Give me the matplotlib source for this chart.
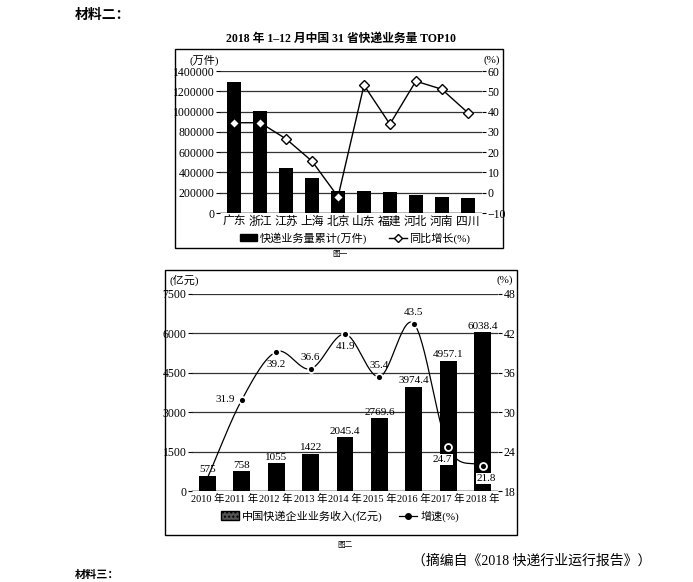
import numpy as np
import matplotlib
matplotlib.use('Agg')
import matplotlib.pyplot as plt
from matplotlib.patches import Rectangle
from matplotlib.lines import Line2D
from matplotlib.ticker import FuncFormatter

plt.rcParams['font.family'] = ['Liberation Serif', 'Noto Sans CJK SC']
plt.rcParams['axes.unicode_minus'] = True

# chart 1 data: 2018 top 10 provinces
provinces = ['广东', '浙江', '江苏', '上海', '北京', '山东', '福建', '河北', '河南', '四川']
volume = [1290000, 1005000, 440000, 345000, 215000, 215000, 205000, 175000, 160000, 145000]
volume_growth = [34.5, 34.5, 26.5, 15.5, -2.0, 53.0, 33.8, 55.0, 51.0, 39.5]

# chart 2 data: revenue by year
years = ['2010 年', '2011 年', '2012 年', '2013 年', '2014 年', '2015 年', '2016 年', '2017 年', '2018 年']
revenue = [575, 758, 1055, 1422, 2045.4, 2769.6, 3974.4, 4957.1, 6038.4]
revenue_labels = ['575', '758', '1055', '1422', '2045.4', '2769.6', '3974.4', '4957.1', '6038.4']
rev_growth = [20.0, 31.9, 39.2, 36.6, 41.9, 35.4, 43.5, 24.7, 21.8]
rev_growth_labels = ['', '31.9', '39.2', '36.6', '41.9', '35.4', '43.5', '24.7', '21.8']


def smooth(xs, ys, n=30):
    """Catmull-Rom style smoothing through the given points"""
    xs = np.asarray(xs, float)
    ys = np.asarray(ys, float)
    m = np.gradient(ys, xs)
    out_x, out_y = [], []
    for i in range(len(xs) - 1):
        t = np.linspace(0, 1, n)
        h = xs[i + 1] - xs[i]
        h00 = 2 * t**3 - 3 * t**2 + 1
        h10 = t**3 - 2 * t**2 + t
        h01 = -2 * t**3 + 3 * t**2
        h11 = t**3 - t**2
        out_x.extend(xs[i] + t * h)
        out_y.extend(h00 * ys[i] + h10 * h * m[i] + h01 * ys[i + 1] + h11 * h * m[i + 1])
    return np.array(out_x), np.array(out_y)


def style_axes(ax, axr):
    for a in (ax, axr):
        for s in a.spines.values():
            s.set_visible(False)
    ax.tick_params(axis='y', length=3, width=0.8, pad=1, labelsize=8.5)
    axr.tick_params(axis='y', length=3, width=0.8, pad=1, labelsize=8.5)
    ax.tick_params(axis='x', length=0, pad=2)
    ax.yaxis.grid(True, color='#333333', linewidth=0.9)
    ax.set_axisbelow(True)
    ax.axhline(ax.get_ylim()[0], color='black', linewidth=1.0)
    ax.yaxis.set_major_formatter(FuncFormatter(lambda v, p: '%d' % v))
    axr.yaxis.set_major_formatter(FuncFormatter(lambda v, p: ('−%d' % -v) if v < 0 else '%d' % v))


fig = plt.figure(figsize=(6.93, 5.82), dpi=100)
W, H = 693.0, 582.0

def fig_rect(x0, y0, x1, y1):
    return [x0 / W, 1 - y1 / H, (x1 - x0) / W, (y1 - y0) / H]

# frames
for (x0, y0, x1, y1) in [(175, 49, 503, 248), (165, 270, 517, 535)]:
    r = fig_rect(x0, y0, x1, y1)
    fig.patches.append(Rectangle((r[0], r[1]), r[2], r[3], transform=fig.transFigure,
                                 fill=False, edgecolor='black', linewidth=1.0))

# ---- chart 1 ----
ax1 = fig.add_axes(fig_rect(220, 71, 482, 213))
x1 = np.arange(len(provinces))
ax1.bar(x1, volume, width=0.54, color='black', zorder=2)
ax1.set_xlim(-0.55, 9.55)
ax1.set_ylim(0, 1400000)
ax1.set_yticks(np.arange(0, 1400001, 200000))
ax1.set_xticks(x1)
ax1.set_xticklabels(provinces, fontsize=8.5)
ax1r = ax1.twinx()
ax1r.set_ylim(-10, 60)
ax1r.set_yticks(np.arange(-10, 61, 10))
ax1r.plot(x1, volume_growth, color='black', linewidth=1.0, marker='D', markersize=5,
          markerfacecolor='white', markeredgecolor='black', markeredgewidth=1.0, zorder=3)
style_axes(ax1, ax1r)
fig.text(341 / W, 1 - 39 / H, '2018 年 1–12 月中国 31 省快递业务量 TOP10', fontsize=8.5,
         fontweight='bold', ha='center', va='center')
fig.text(190 / W, 1 - 60 / H, '(万件)', fontsize=8, ha='left', va='center')
fig.text(500 / W, 1 - 60 / H, '(%)', fontsize=8, ha='right', va='center')
h1 = [Rectangle((0, 0), 1, 1, facecolor='black', edgecolor='black'),
      Line2D([0], [0], color='black', linewidth=1.0, marker='D', markersize=4.5,
             markerfacecolor='white', markeredgecolor='black')]
fig.legend(h1, ['快递业务量累计(万件)', '同比增长(%)'], loc='center',
           bbox_to_anchor=(355 / W, 1 - 238 / H), ncol=2, frameon=False, fontsize=8,
           handlelength=1.6, handleheight=0.5, columnspacing=2.0, handletextpad=0.2)
fig.text(340 / W, 1 - 254 / H, '图一', fontsize=5.5, ha='center', va='center')

# ---- chart 2 ----
ax2 = fig.add_axes(fig_rect(192, 294, 498, 491))
x2 = np.arange(len(years))
ax2.bar(x2, revenue, width=0.49, color='black', zorder=2)
ax2.set_xlim(-0.45, 8.45)
ax2.set_ylim(0, 7500)
ax2.set_yticks(np.arange(0, 7501, 1500))
ax2.set_xticks(x2)
ax2.set_xticklabels(years, fontsize=7.5)
for xi, v, lab in zip(x2, revenue, revenue_labels):
    ax2.text(xi, v + 60, lab, ha='center', va='bottom', fontsize=8, zorder=4)
ax2r = ax2.twinx()
ax2r.set_ylim(18, 48)
ax2r.set_yticks(np.arange(18, 49, 6))
sx, sy = smooth(x2, rev_growth)
ax2r.plot(sx, sy, color='black', linewidth=0.9, zorder=3)
ax2r.plot(x2[1:], rev_growth[1:], linestyle='none', marker='o', markersize=5,
          markerfacecolor='black', markeredgecolor='white', markeredgewidth=1.3, zorder=4)
offsets = [None, (-12, 0), (0, -9), (0, 8), (0, -9), (0, 8), (0, 8), (-4, -9), (3, -9)]
for xi, v, lab, off in zip(x2, rev_growth, rev_growth_labels, offsets):
    if not lab:
        continue
    t = ax2r.annotate(lab, (xi, v), xytext=off, textcoords='offset points',
                      ha='center', va='center', fontsize=8, zorder=5)
    if xi >= 7:
        t.set_bbox(dict(facecolor='white', edgecolor='none', pad=0.5))
style_axes(ax2, ax2r)
fig.text(170 / W, 1 - 280 / H, '(亿元)', fontsize=8, ha='left', va='center')
fig.text(513 / W, 1 - 280 / H, '(%)', fontsize=8, ha='right', va='center')
h2 = [Rectangle((0, 0), 1, 1, facecolor='#555555', edgecolor='black', hatch='....'),
      Line2D([0], [0], color='black', linewidth=0.9, marker='o', markersize=4,
             markerfacecolor='black')]
fig.legend(h2, ['中国快递企业业务收入(亿元)', '增速(%)'], loc='center',
           bbox_to_anchor=(340 / W, 1 - 516 / H), ncol=2, frameon=False, fontsize=8,
           handlelength=1.6, handleheight=0.8, columnspacing=1.5, handletextpad=0.3)
fig.text(345 / W, 1 - 545 / H, '图二', fontsize=5.5, ha='center', va='center')

# page text
fig.text(75 / W, 1 - 15 / H, '材料二：', fontsize=10, fontweight='bold', ha='left', va='center')
fig.text(412 / W, 1 - 561 / H, '（摘编自《2018 快递行业运行报告》）', fontsize=10,
         ha='left', va='center')
fig.text(75 / W, 1 - 575 / H, '材料三：', fontsize=8, fontweight='bold', ha='left', va='center')

fig.savefig('out.png', dpi=100)
